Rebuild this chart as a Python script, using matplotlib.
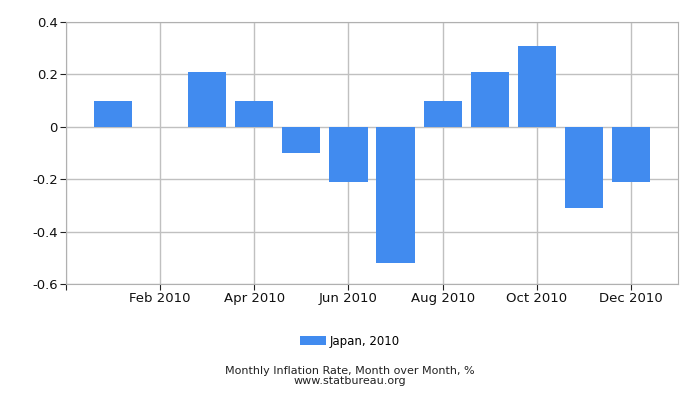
import matplotlib.pyplot as plt
import numpy as np

months = ['Jan 2010', 'Feb 2010', 'Mar 2010', 'Apr 2010', 'May 2010', 'Jun 2010',
          'Jul 2010', 'Aug 2010', 'Sep 2010', 'Oct 2010', 'Nov 2010', 'Dec 2010']
values = [0.1, 0.0, 0.21, 0.1, -0.1, -0.21, -0.52, 0.1, 0.21, 0.31, -0.31, -0.21]
yticks = [-0.6, -0.4, -0.2, 0, 0.2, 0.4]
ylabels = ['-0.6', '-0.4', '-0.2', '0', '0.2', '0.4']

fig = plt.figure(figsize=(7, 4), dpi=100)
ax = fig.add_axes([66/700, 1-284/400, 612/700, 262/400])

x = np.arange(len(months))
ax.bar(x, values, width=0.81, color='#418bef', label='Japan, 2010', zorder=3)

# ticks on every second month, plus an unlabeled one at the left edge
tpos = [-1] + list(x[1::2])
tlab = [''] + months[1::2]
ax.set_xticks(tpos)
ax.set_xticklabels(tlab, fontsize=9.5)
ax.set_xlim(-1, 12)
ax.set_ylim(-0.6, 0.4)
ax.set_yticks(yticks)
ax.set_yticklabels(ylabels, fontsize=9.5)

ax.grid(True, color='#c0c0c0', linewidth=1, zorder=0)
for s in ax.spines.values():
    s.set_color('#b0b0b0')
ax.tick_params(axis='both', length=4, color='#222222', pad=2, labelcolor='#111111')

fig.legend(loc='center', bbox_to_anchor=(0.5, 1-341/400), frameon=False,
           fontsize=8.5, handlelength=2.2, handleheight=0.8, handletextpad=0.3)
fig.text(0.5, 1-370.5/400, 'Monthly Inflation Rate, Month over Month, %', ha='center',
         va='center', fontsize=8, color='#222222')
fig.text(0.5, 1-381.5/400, 'www.statbureau.org', ha='center', va='center',
         fontsize=8, color='#222222')

fig.savefig('out.png', dpi=100)
